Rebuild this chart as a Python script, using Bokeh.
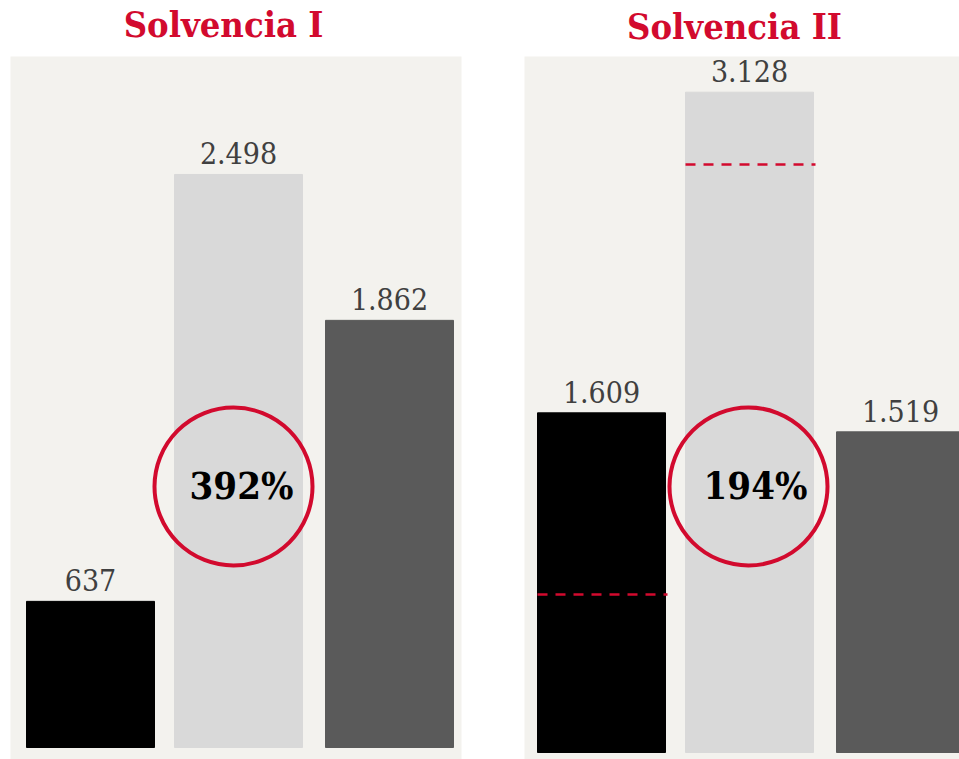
from bokeh.plotting import figure
from bokeh.models import Range1d, ColumnDataSource
from bokeh.core.properties import value
from bokeh.embed import file_html
from bokeh.resources import INLINE

# ---- data ----
panel_titles = ["Solvencia I", "Solvencia II"]
si_values = [637, 2498, 1862]
sii_values = [1609, 3128, 1519]
si_labels = ["637", "2.498", "1.862"]
sii_labels = ["1.609", "3.128", "1.519"]
ratios = ["392%", "194%"]
# dashed reference levels on the Solvencia II bars (black bar, light bar)
sii_dashed_levels = [748, 2785]

# ---- layout: each panel has its own vertical scale (px per unit, page y of zero) ----
W, H = 959, 759
scales = [(0.2294, 747), (0.2111, 752)]

def vy(page_y, k):
    s, base = scales[k]
    return (base - page_y) / s

p = figure(width=W, height=H, output_backend="svg", toolbar_location=None,
           x_range=Range1d(0, W), y_range=Range1d(vy(H, 0), vy(0, 0)),
           min_border=0, outline_line_color=None, background_fill_color="white",
           border_fill_color="white")
p.extra_y_ranges = {"sii": Range1d(vy(H, 1), vy(0, 1))}
p.axis.visible = False
p.grid.visible = False

BG = "#F3F2EE"
RED = "#D20A2E"
bar_colors = ["#000000", "#D9D9D9", "#5A5A5A"]
BW = 128
FONT = value("DejaVu Serif Condensed, DejaVu Serif")

panels = [
    dict(left=10, right=461, centers=[90, 238, 389], vals=si_values, labels=si_labels,
         title_x=223, title_y=23, circle=(233, 486), ratio_x=241, yr="default"),
    dict(left=524, right=970, centers=[601, 749, 900], vals=sii_values, labels=sii_labels,
         title_x=734, title_y=25, circle=(748, 486), ratio_x=755, yr="sii"),
]

for i, pn in enumerate(panels):
    s = scales[i][0]
    yr = pn["yr"]
    p.quad(left=pn["left"], right=pn["right"], top=vy(56, i), bottom=vy(780, i),
           fill_color=BG, line_color=None, y_range_name=yr)
    src = ColumnDataSource(dict(x=pn["centers"], top=pn["vals"], color=bar_colors,
                                lab=pn["labels"], ly=[v + 21 / s for v in pn["vals"]]))
    p.vbar(x="x", top="top", bottom=0, width=BW, color="color", source=src, y_range_name=yr)
    p.text(x="x", y="ly", text="lab", source=src, text_align="center",
           text_baseline="middle", text_font=FONT, y_range_name=yr,
           text_font_size="30px", text_color="#404040")
    p.text(x=[pn["title_x"]], y=[vy(pn["title_y"], i)], text=[panel_titles[i]],
           text_align="center", text_baseline="middle", text_font=FONT, y_range_name=yr,
           text_font_style="bold", text_font_size="36px", text_color=RED)
    cx, cy = pn["circle"]
    p.scatter(x=[cx], y=[vy(cy, i)], size=158, marker="circle", fill_color=None,
              line_color=RED, line_width=4, y_range_name=yr)
    p.text(x=[pn["ratio_x"]], y=[vy(cy - 1, i)], text=[ratios[i]], text_align="center",
           text_baseline="middle", text_font=FONT, y_range_name=yr,
           text_font_style="bold", text_font_size="38px", text_color="#000000")

# dashed reference lines on Solvencia II bars
c2 = panels[1]["centers"]
for xc, lv in zip(c2[:2], sii_dashed_levels):
    p.line(x=[xc - BW / 2, xc + BW / 2 + 2], y=[lv, lv], line_color=RED, line_width=2.5,
           line_dash="10 8", y_range_name="sii")

open("out.html", "w").write(file_html(p, INLINE))
